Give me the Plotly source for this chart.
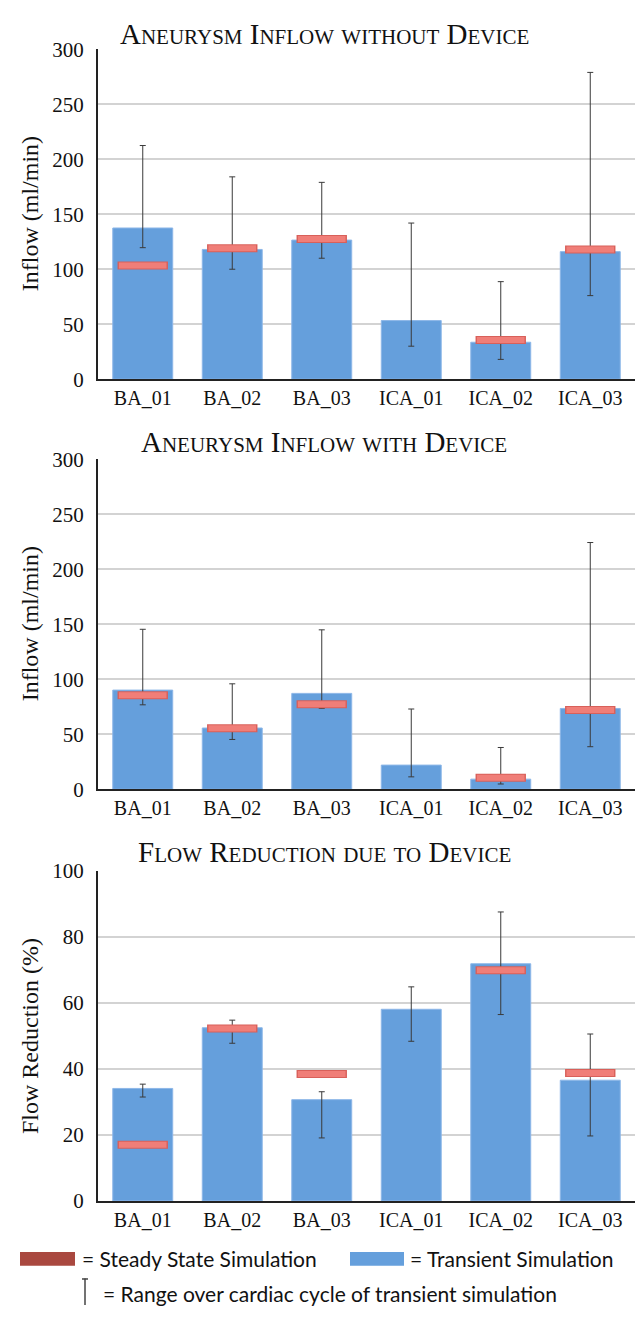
import plotly.graph_objects as go

W, H = 637, 1317

categories = ["BA_01", "BA_02", "BA_03", "ICA_01", "ICA_02", "ICA_03"]

inflow_no_dev = [137.5, 118, 126.5, 53.3, 33.6, 116]
inflow_no_dev_max = [212.5, 184, 179, 142, 88.7, 279]
inflow_no_dev_min = [119.6, 100, 110, 30, 18, 76]
inflow_no_dev_steady = [103.3, 119, 127.4, None, 35.7, 118]

inflow_dev = [90.2, 55.7, 87.2, 22, 9.2, 73.5]
inflow_dev_max = [145.5, 95.9, 145, 73, 38, 224.4]
inflow_dev_min = [76.8, 45.3, 73.6, 11.3, 4.8, 38.7]
inflow_dev_steady = [85.4, 55.4, 77.4, None, 10.4, 72]

reduction = [34.1, 52.5, 30.7, 58.1, 71.9, 36.6]
reduction_max = [35.4, 54.8, 33.1, 64.9, 87.6, 50.6]
reduction_min = [31.5, 47.8, 19.1, 48.4, 56.5, 19.7]
reduction_steady = [17.0, 52.3, 38.5, None, 69.9, 38.8]

panels = [
    dict(vals=inflow_no_dev, vmax=inflow_no_dev_max, vmin=inflow_no_dev_min,
         steady=inflow_no_dev_steady, top=38, bottom=374, yrange=[0, 300], dtick=50,
         title=["Aneurysm", "Inflow", "without", "Device"], title_y=22,
         ytitle="Inflow (ml/min)"),
    dict(vals=inflow_dev, vmax=inflow_dev_max, vmin=inflow_dev_min,
         steady=inflow_dev_steady, top=455.7, bottom=791.7, yrange=[0, 300], dtick=50,
         title=["Aneurysm", "Inflow", "with", "Device"], title_y=438,
         ytitle="Inflow (ml/min)"),
    dict(vals=reduction, vmax=reduction_max, vmin=reduction_min,
         steady=reduction_steady, top=875, bottom=1211, yrange=[0, 100], dtick=20,
         title=["Flow", "Reduction", "due", "to", "Device"], title_y=856,
         ytitle="Flow Reduction (%)"),
]

SERIF = "Liberation Serif"
SANS = "Lato"
BAR = "#659fdc"
GRID = "#d3d3d3"


def small_caps(words, small=21):
    out = []
    for w in words:
        first = w[0]
        rest = w[1:].upper()
        if first.isupper():
            out.append(first + f"<span style='font-size:{small}px'>{rest}</span>")
        else:
            out.append(f"<span style='font-size:{small}px'>{w.upper()}</span>")
    return " ".join(out)


fig = go.Figure()
plot_left, plot_right = 98 / W, 635 / W
annotations = []
shapes = []

for i, p in enumerate(panels):
    n = "" if i == 0 else str(i + 1)
    xa, ya = "x" + n, "y" + n
    err_plus = [a - v for a, v in zip(p["vmax"], p["vals"])]
    err_minus = [v - b for v, b in zip(p["vals"], p["vmin"])]
    fig.add_trace(go.Bar(
        x=categories, y=p["vals"], xaxis=xa, yaxis=ya,
        marker=dict(color=BAR, line=dict(color="#8db7e8", width=1)),
        error_y=dict(type="data", symmetric=False, array=err_plus, arrayminus=err_minus,
                     color="#3a3a3a", thickness=1, width=3),
        showlegend=False, hoverinfo="skip"))
    fig.add_trace(go.Scatter(
        x=categories, y=p["steady"], xaxis=xa, yaxis=ya, mode="markers",
        marker=dict(symbol="line-ew", size=36, line=dict(color="#d8605a", width=8)),
        showlegend=False, hoverinfo="skip"))
    fig.add_trace(go.Scatter(
        x=categories, y=p["steady"], xaxis=xa, yaxis=ya, mode="markers",
        marker=dict(symbol="line-ew", size=34, line=dict(color="#f07e78", width=6)),
        showlegend=False, hoverinfo="skip"))

    ydom = [1 - p["bottom"] / H, 1 - p["top"] / H]
    fig.layout["xaxis" + n] = dict(
        domain=[plot_left, plot_right], anchor=ya, type="category", range=[-0.5, 5.5],
        showline=True, linecolor="#222", linewidth=2, showgrid=False, ticks="",
        tickfont=dict(family=SERIF, size=20, color="#111"), fixedrange=True)
    fig.layout["yaxis" + n] = dict(
        domain=ydom, anchor=xa, range=p["yrange"], dtick=p["dtick"],
        showline=True, linecolor="#222", linewidth=2, showgrid=True, gridcolor=GRID,
        gridwidth=1.5, zeroline=False, ticks="", ticklabelstandoff=8,
        tickfont=dict(family=SERIF, size=21, color="#111"), fixedrange=True)

    annotations.append(dict(
        x=324 / W, y=1 - p["title_y"] / H, xref="paper", yref="paper",
        text=small_caps(p["title"]), showarrow=False, xanchor="center", yanchor="middle",
        font=dict(family=SERIF, size=29, color="#111")))
    annotations.append(dict(
        x=30 / W, y=1 - (p["top"] + p["bottom"]) / 2 / H, xref="paper", yref="paper",
        text=p["ytitle"], textangle=-90, showarrow=False, xanchor="center", yanchor="middle",
        font=dict(family=SERIF, size=24, color="#111")))

# legend
def px_rect(x0, y0, x1, y1, color):
    return dict(type="rect", xref="paper", yref="paper", x0=x0 / W, x1=x1 / W,
                y0=1 - y1 / H, y1=1 - y0 / H, fillcolor=color, line=dict(width=0))

shapes.append(px_rect(20, 1263, 75, 1277, "#a9483f"))
shapes.append(px_rect(350, 1263, 404, 1277, BAR))
annotations.append(dict(x=80 / W, y=1 - 1270 / H, xref="paper", yref="paper",
                        text="= Steady State Simulation", showarrow=False,
                        xanchor="left", yanchor="middle",
                        font=dict(family=SANS, size=21, color="#111")))
annotations.append(dict(x=408 / W, y=1 - 1270 / H, xref="paper", yref="paper",
                        text="= Transient Simulation", showarrow=False,
                        xanchor="left", yanchor="middle",
                        font=dict(family=SANS, size=21, color="#111")))
annotations.append(dict(x=101 / W, y=1 - 1305 / H, xref="paper", yref="paper",
                        text="= Range over cardiac cycle of transient simulation",
                        showarrow=False, xanchor="left", yanchor="middle",
                        font=dict(family=SANS, size=21, color="#111")))
shapes.append(dict(type="line", xref="paper", yref="paper", x0=85 / W, x1=85 / W,
                   y0=1 - 1317 / H, y1=1 - 1290 / H, line=dict(color="#444", width=1.5)))
shapes.append(dict(type="line", xref="paper", yref="paper", x0=82 / W, x1=88 / W,
                   y0=1 - 1290.5 / H, y1=1 - 1290.5 / H, line=dict(color="#444", width=1.5)))

fig.update_layout(
    width=W, height=H, margin=dict(l=0, r=0, t=0, b=0),
    paper_bgcolor="white", plot_bgcolor="white",
    bargap=0.33, annotations=annotations, shapes=shapes, showlegend=False)

fig.write_html("out.html", config={"displayModeBar": False})
